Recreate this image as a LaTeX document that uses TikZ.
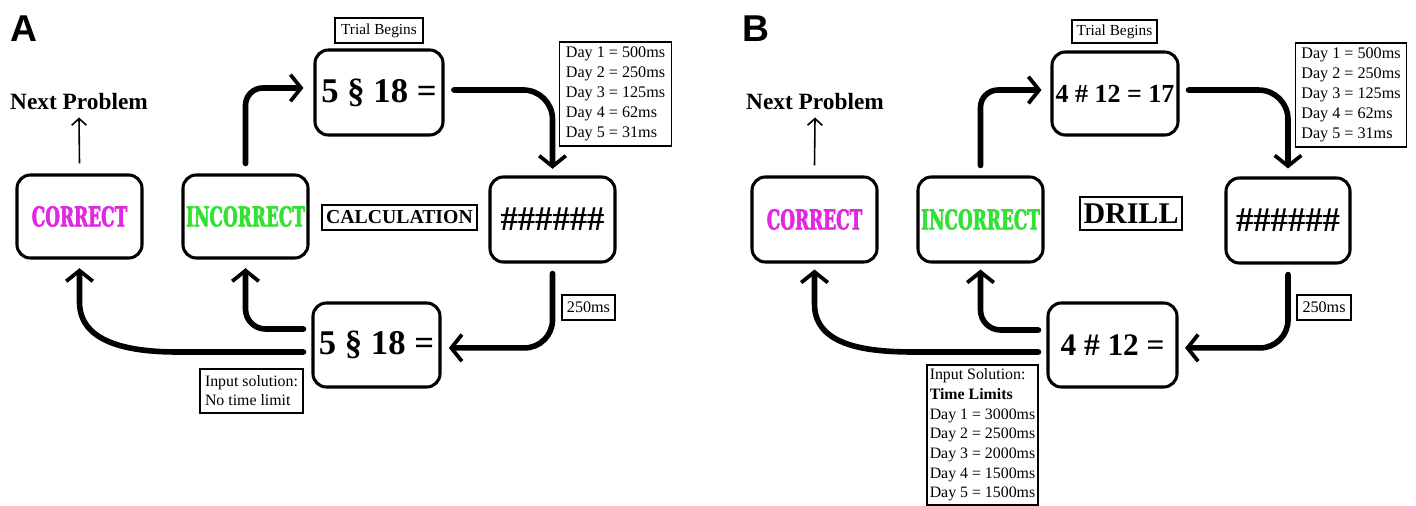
\documentclass[tikz,border=0pt]{standalone}
\usepackage{fontspec}
\setmainfont{Liberation Serif}
\newfontfamily\labelfont{Liberation Sans}
\newfontfamily\heavyfont[FakeStretch=0.62,BoldFeatures={FakeBold=2}]{DejaVu Serif}
\usetikzlibrary{arrows.meta}
\definecolor{magentaC}{RGB}{225,40,225}
\definecolor{greenC}{RGB}{50,225,50}
\begin{document}
\begin{tikzpicture}[x=0.75pt,y=-0.75pt,
 bigbox/.style={draw,line width=2.3pt,rounded corners=10pt,inner sep=0pt,align=center},
 smallbox/.style={draw,line width=1.3pt,inner sep=0pt,font=\fontsize{12.1}{14.9}\selectfont,align=left},
 flow/.style={line width=4.2pt,line cap=round,-{Straight Barb[length=8pt,width=20pt,line width=2.8pt]}},
 thinflow/.style={line width=1.2pt,-{Straight Barb[length=5pt,width=11pt]}},
 eqtext/.style={font=\fontsize{26}{26}\selectfont\bfseries},
 wordtext/.style={font=\fontsize{20.5}{20.5}\selectfont\heavyfont\bfseries},
 panellabel/.style={font=\fontsize{28}{28}\selectfont\labelfont\bfseries,inner sep=0pt,anchor=base},
 nexttext/.style={font=\fontsize{17.5}{17.5}\selectfont\bfseries,inner sep=0pt,anchor=base},
]
\useasboundingbox (0,0) rectangle (1416,506);
\fill[white] (0,0) rectangle (1416,506);

% ---------------- Panel A ----------------
\node[panellabel] (labA) at (24,42) {A};
\node[nexttext] (nextA) at (79,110) {Next Problem};
\node[bigbox,minimum width=93.75pt,minimum height=62.25pt,wordtext,text=magentaC] (corrA) at (79.5,216.5) {CORRECT};
\node[bigbox,minimum width=93.75pt,minimum height=62.25pt,wordtext,text=greenC] (incA) at (245.5,216.5) {INCORRECT};
\node[bigbox,minimum width=96pt,minimum height=63.75pt,eqtext] (topA) at (379,92.5) {5 § 18 =};
\node[bigbox,minimum width=93.75pt,minimum height=63.75pt,eqtext] (hashA) at (552.5,219.5) {\#\#\#\#\#\#};
\node[bigbox,minimum width=95.25pt,minimum height=63pt,eqtext] (botA) at (376.5,345) {5 § 18 =};
\node[smallbox,minimum width=66pt,minimum height=18.75pt,font=\fontsize{11.5}{13}\selectfont] (trialA) at (379,30.5) {Trial Begins};
\node[smallbox,minimum width=84pt,minimum height=78pt] (dayA) at (615.5,94) {Day 1 = 500ms\\Day 2 = 250ms\\Day 3 = 125ms\\Day 4 = 62ms\\Day 5 = 31ms};
\node[smallbox,minimum width=116.25pt,minimum height=18.75pt,font=\fontsize{14.8}{14.8}\selectfont\bfseries] (calcA) at (399.5,217.5) {CALCULATION};
\node[smallbox,minimum width=39.75pt,minimum height=18.75pt] (msA) at (588.5,307.5) {250ms};
\node[smallbox,minimum width=77.25pt,minimum height=33pt,font=\fontsize{11.9}{14.3}\selectfont] (inA) at (251.5,391) {Input solution:\\No time limit};

\draw[thinflow] ([yshift=7.5pt]corrA.north) -- ([yshift=-5.25pt]nextA.south);
\draw[flow,rounded corners=13pt] ([yshift=7.5pt]incA.north) |- ([xshift=-7.5pt,yshift=3.4pt]topA.west);
\draw[flow,rounded corners=22pt] ([xshift=7pt,yshift=1.9pt]topA.east) -| ([yshift=5pt]hashA.north);
\draw[flow,rounded corners=21pt] ([yshift=-7.5pt]hashA.south) |- ([xshift=5.5pt,yshift=-2.2pt]botA.east);
\draw[flow,rounded corners=15pt] ([xshift=-6pt,yshift=12pt]botA.west) -| ([yshift=-6.5pt]incA.south);
\draw[flow] ([xshift=-6pt,yshift=-5.25pt]botA.west) -- (178,352) to[out=180,in=-90] (79.5,302) -- ([yshift=-6.5pt]corrA.south);

% ---------------- Panel B ----------------
\node[panellabel] (labB) at (756,42) {B};
\node[nexttext] (nextB) at (815,110) {Next Problem};
\node[bigbox,minimum width=93.75pt,minimum height=63.75pt,wordtext,text=magentaC] (corrB) at (814.5,219.5) {CORRECT};
\node[bigbox,minimum width=93.75pt,minimum height=63.75pt,wordtext,text=greenC] (incB) at (980.5,219.5) {INCORRECT};
\node[bigbox,minimum width=94.5pt,minimum height=62.25pt,font=\fontsize{19.5}{19.5}\selectfont\bfseries] (topB) at (1115,93.5) {4 \# 12 = 17};
\node[bigbox,minimum width=93pt,minimum height=63.75pt,eqtext] (hashB) at (1288,220.5) {\#\#\#\#\#\#};
\node[bigbox,minimum width=96.75pt,minimum height=63pt,font=\fontsize{23.5}{23.5}\selectfont\bfseries] (botB) at (1112.5,345) {4 \# 12 =};
\node[smallbox,minimum width=63.75pt,minimum height=17.25pt,font=\fontsize{11.5}{13}\selectfont] (trialB) at (1114.5,31.5) {Trial Begins};
\node[smallbox,minimum width=83.25pt,minimum height=78pt] (dayB) at (1351,95) {Day 1 = 500ms\\Day 2 = 250ms\\Day 3 = 125ms\\Day 4 = 62ms\\Day 5 = 31ms};
\node[smallbox,minimum width=76.5pt,minimum height=24.75pt,font=\fontsize{22.5}{22.5}\selectfont\bfseries] (drillB) at (1131,213.5) {DRILL};
\node[smallbox,minimum width=40.5pt,minimum height=18.75pt] (msB) at (1324,307.5) {250ms};
\node[smallbox,minimum width=83.25pt,minimum height=105pt,font=\fontsize{11.9}{14.8}\selectfont] (inB) at (982.5,435) {Input Solution:\\\textbf{Time Limits}\\Day 1 = 3000ms\\Day 2 = 2500ms\\Day 3 = 2000ms\\Day 4 = 1500ms\\Day 5 = 1500ms};

\draw[thinflow] ([yshift=7.5pt]corrB.north) -- ([yshift=-5.25pt]nextB.south);
\draw[flow,rounded corners=13pt] ([yshift=7.5pt]incB.north) |- ([xshift=-6.75pt,yshift=2.6pt]topB.west);
\draw[flow,rounded corners=22pt] ([xshift=6.75pt,yshift=2.6pt]topB.east) -| ([yshift=6pt]hashB.north);
\draw[flow,rounded corners=21pt] ([yshift=-7.5pt]hashB.south) |- ([xshift=4.9pt,yshift=-2.2pt]botB.east);
\draw[flow,rounded corners=15pt] ([xshift=-6pt,yshift=11.25pt]botB.west) -| ([yshift=-4.5pt]incB.south);
\draw[flow] ([xshift=-6pt,yshift=-5.25pt]botB.west) -- (915,352) to[out=180,in=-90] (814.5,304) -- ([yshift=-4.5pt]corrB.south);
\end{tikzpicture}
\end{document}
